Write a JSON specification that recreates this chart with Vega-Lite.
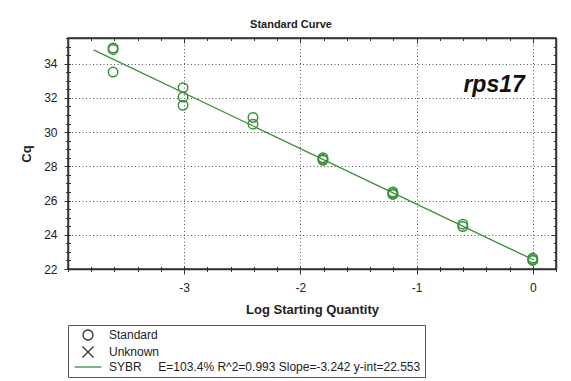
{
  "$schema": "https://vega.github.io/schema/vega-lite/v6.json",
  "width": 488,
  "height": 231,
  "autosize": {"type": "none"},
  "padding": {"left": 68, "top": 38, "right": 15, "bottom": 112},
  "background": "white",
  "title": {
    "text": "Standard Curve",
    "font": "Liberation Sans",
    "fontSize": 11,
    "fontWeight": "bold",
    "color": "#222222",
    "anchor": "middle",
    "dx": -21,
    "offset": 8
  },
  "config": {
    "font": "Liberation Sans",
    "view": {"stroke": "#333333", "strokeWidth": 1.5},
    "axis": {"tickColor": "#333333", "tickWidth": 1, "domainColor": "#333333", "domainWidth": 1.5}
  },
  "resolve": {"axis": {"x": "independent", "y": "independent"}},
  "layer": [
    {
      "data": {
        "values": [
          {"log_qty": -3.612, "cq": 34.92},
          {"log_qty": -3.612, "cq": 34.83},
          {"log_qty": -3.612, "cq": 33.51},
          {"log_qty": -3.010, "cq": 32.60},
          {"log_qty": -3.010, "cq": 32.05},
          {"log_qty": -3.010, "cq": 31.57},
          {"log_qty": -2.408, "cq": 30.86},
          {"log_qty": -2.408, "cq": 30.46},
          {"log_qty": -1.806, "cq": 28.50},
          {"log_qty": -1.806, "cq": 28.42},
          {"log_qty": -1.806, "cq": 28.35},
          {"log_qty": -1.204, "cq": 26.50},
          {"log_qty": -1.204, "cq": 26.42},
          {"log_qty": -1.204, "cq": 26.36},
          {"log_qty": -0.602, "cq": 24.62},
          {"log_qty": -0.602, "cq": 24.48},
          {"log_qty": 0.000, "cq": 22.64},
          {"log_qty": 0.000, "cq": 22.55},
          {"log_qty": 0.000, "cq": 22.50}
        ]
      },
      "mark": {"type": "point", "shape": "circle", "filled": false, "size": 90, "strokeWidth": 1.5, "color": "#3a8f3a", "opacity": 1},
      "encoding": {
        "x": {
          "field": "log_qty",
          "type": "quantitative",
          "scale": {"domain": [-4, 0.2], "nice": false, "zero": false},
          "axis": {
            "orient": "bottom",
            "values": [-3, -2, -1, 0],
            "labelExpr": "'' + datum.value",
            "labelOverlap": false,
            "labelFlush": false,
            "labelFontSize": 12,
            "labelColor": "#222222",
            "labelPadding": 8,
            "tickSize": 5,
            "grid": true,
            "gridColor": "#555555",
            "gridDash": [1, 2.5],
            "gridWidth": 1,
            "title": "Log Starting Quantity",
            "titleFontSize": 13,
            "titleFontWeight": "bold",
            "titleColor": "#222222",
            "titlePadding": 10
          }
        },
        "y": {
          "field": "cq",
          "type": "quantitative",
          "scale": {"domain": [22, 35.5], "nice": false, "zero": false},
          "axis": {
            "orient": "left",
            "values": [22, 24, 26, 28, 30, 32, 34],
            "labelExpr": "'' + datum.value",
            "labelOverlap": false,
            "labelFlush": false,
            "labelFontSize": 12,
            "labelColor": "#222222",
            "labelPadding": 7,
            "tickSize": 4,
            "grid": true,
            "gridColor": "#555555",
            "gridDash": [1, 2.5],
            "gridWidth": 1,
            "title": "Cq",
            "titleFontSize": 13,
            "titleFontWeight": "bold",
            "titleColor": "#222222",
            "titlePadding": 10
          }
        }
      }
    },
    {
      "data": {
        "values": [
          {"log_qty": -3.78, "cq": 34.808},
          {"log_qty": 0, "cq": 22.553}
        ]
      },
      "mark": {"type": "line", "color": "#3a8f3a", "strokeWidth": 1.3},
      "encoding": {
        "x": {
          "field": "log_qty",
          "type": "quantitative",
          "scale": {"domain": [-4, 0.2], "nice": false, "zero": false},
          "axis": {
            "orient": "top",
            "values": [-4, -3.8, -3.6, -3.4, -3.2, -3, -2.8, -2.6, -2.4, -2.2, -2, -1.8, -1.6, -1.4, -1.2, -1, -0.8, -0.6, -0.4, -0.2, 0, 0.2],
            "labels": false,
            "grid": false,
            "title": null,
            "tickSize": -2.5
          }
        },
        "y": {
          "field": "cq",
          "type": "quantitative",
          "scale": {"domain": [22, 35.5], "nice": false, "zero": false},
          "axis": {
            "orient": "right",
            "values": [22, 22.5, 23, 23.5, 24, 24.5, 25, 25.5, 26, 26.5, 27, 27.5, 28, 28.5, 29, 29.5, 30, 30.5, 31, 31.5, 32, 32.5, 33, 33.5, 34, 34.5, 35, 35.5],
            "labels": false,
            "grid": false,
            "title": null,
            "tickSize": -2.7
          }
        }
      }
    },
    {
      "data": {"values": [{"log_qty": -0.333, "cq": 32.35, "gene": "rps17"}]},
      "mark": {
        "type": "text",
        "font": "Liberation Sans",
        "fontSize": 23,
        "fontWeight": "bold",
        "fontStyle": "italic",
        "align": "center",
        "baseline": "alphabetic",
        "color": "#111111"
      },
      "encoding": {
        "text": {"field": "gene", "type": "nominal"},
        "x": {
          "field": "log_qty",
          "type": "quantitative",
          "scale": {"domain": [-4, 0.2], "nice": false, "zero": false},
          "axis": {
            "orient": "bottom",
            "values": [-4, -3.8, -3.6, -3.4, -3.2, -3, -2.8, -2.6, -2.4, -2.2, -2, -1.8, -1.6, -1.4, -1.2, -1, -0.8, -0.6, -0.4, -0.2, 0, 0.2],
            "offset": -2.5,
            "tickSize": 5,
            "labels": false,
            "grid": false,
            "domain": false,
            "title": null
          }
        },
        "y": {
          "field": "cq",
          "type": "quantitative",
          "scale": {"domain": [22, 35.5], "nice": false, "zero": false},
          "axis": {
            "orient": "left",
            "values": [22, 22.5, 23, 23.5, 24, 24.5, 25, 25.5, 26, 26.5, 27, 27.5, 28, 28.5, 29, 29.5, 30, 30.5, 31, 31.5, 32, 32.5, 33, 33.5, 34, 34.5, 35, 35.5],
            "offset": -2.5,
            "tickSize": 5,
            "labels": false,
            "grid": false,
            "domain": false,
            "title": null
          }
        }
      }
    },
    {
      "data": {
        "values": [
          {"log_qty": 0, "cq": 22, "series": "Standard"}
        ]
      },
      "transform": [{"filter": "false"}],
      "mark": {"type": "point", "filled": false, "strokeWidth": 1.3, "opacity": 1},
      "encoding": {
        "x": {
          "field": "log_qty",
          "type": "quantitative",
          "scale": {"domain": [-4, 0.2], "nice": false, "zero": false},
          "axis": {
            "orient": "top",
            "values": [-3, -2, -1, 0],
            "tickSize": -5,
            "labels": false,
            "grid": false,
            "domain": false,
            "title": null
          }
        },
        "y": {
          "field": "cq",
          "type": "quantitative",
          "scale": {"domain": [22, 35.5], "nice": false, "zero": false},
          "axis": {
            "orient": "right",
            "values": [22, 24, 26, 28, 30, 32, 34],
            "tickSize": -5,
            "labels": false,
            "grid": false,
            "domain": false,
            "title": null
          }
        },
        "shape": {
          "field": "series",
          "type": "nominal",
          "scale": {
            "domain": ["Standard", "Unknown", "SYBR\u00a0\u00a0\u00a0\u00a0\u00a0E=103.4% R^2=0.993 Slope=-3.242 y-int=22.553"],
            "range": ["circle", "M-1.1,-1.1L1.1,1.1M-1.1,1.1L1.1,-1.1", "M-2.7,0H2.7"]
          },
          "legend": {
            "title": null,
            "orient": "none",
            "legendX": 0,
            "legendY": 287,
            "direction": "vertical",
            "padding": 4,
            "strokeColor": "#555555",
            "fillColor": "white",
            "symbolSize": 100,
            "symbolStrokeWidth": 1.3,
            "symbolFillColor": "transparent",
            "symbolOpacity": 1,
            "symbolOffset": 10,
            "labelOffset": 15,
            "rowPadding": 0,
            "labelFont": "Liberation Sans",
            "labelFontSize": 12,
            "labelColor": "#222222",
            "labelLimit": 420
          }
        },
        "stroke": {
          "field": "series",
          "type": "nominal",
          "scale": {
            "domain": ["Standard", "Unknown", "SYBR\u00a0\u00a0\u00a0\u00a0\u00a0E=103.4% R^2=0.993 Slope=-3.242 y-int=22.553"],
            "range": ["#333333", "#333333", "#3a8f3a"]
          },
          "legend": {
            "title": null,
            "orient": "none",
            "legendX": 0,
            "legendY": 287,
            "direction": "vertical",
            "padding": 4,
            "strokeColor": "#555555",
            "fillColor": "white",
            "symbolSize": 100,
            "symbolStrokeWidth": 1.3,
            "symbolFillColor": "transparent",
            "symbolOpacity": 1,
            "symbolOffset": 10,
            "labelOffset": 15,
            "rowPadding": 0,
            "labelFont": "Liberation Sans",
            "labelFontSize": 12,
            "labelColor": "#222222",
            "labelLimit": 420
          }
        }
      }
    }
  ]
}
